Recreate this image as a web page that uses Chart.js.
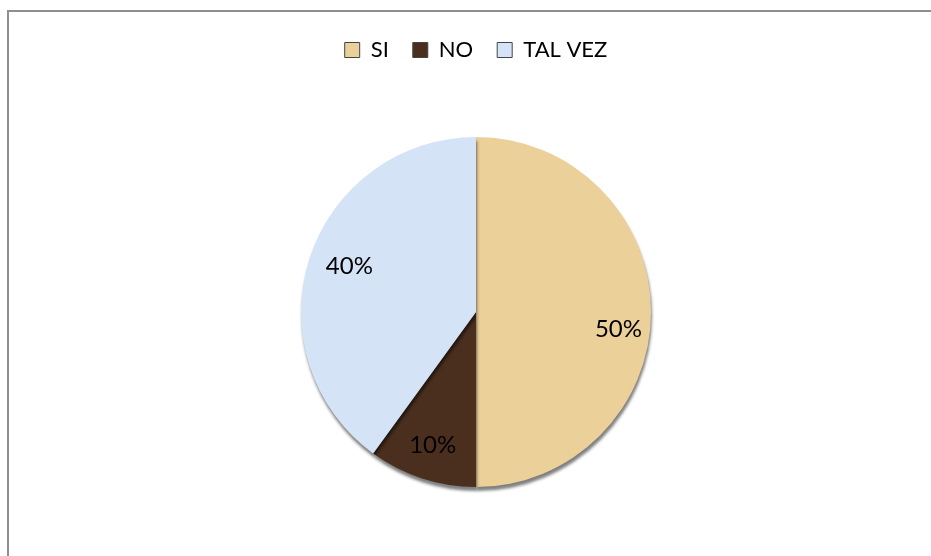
<!DOCTYPE html>
<html>
<head>
<meta charset="utf-8">
<script src="https://cdn.jsdelivr.net/npm/chart.js@4/dist/chart.umd.min.js"></script>
<style>
  html, body { margin: 0; padding: 0; background: #fff; }
  #wrap { position: relative; width: 931px; height: 556px; overflow: hidden; }
  #frame { position: absolute; left: 7px; top: 10px; width: 1000px; height: 1000px;
           border-left: 2px solid #8f8f8f; border-top: 2px solid #8f8f8f; box-sizing: border-box; }
  canvas { position: absolute; left: 0; top: 0; }
</style>
</head>
<body>
<div id="wrap">
  <div id="frame"></div>
  <canvas id="c" width="931" height="556"></canvas>
</div>
<script>
const categories = ["SI", "NO", "TAL VEZ"];
const values = [50, 10, 40];
const percentLabels = ["50%", "10%", "40%"];
const sliceColors = ["#EBD09A", "#4A2F1F", "#D4E4F6"];

// label placement style (not data): angle shift in degrees and radius fraction per slice
const labelPlacement = { angleShift: [7, 0, 2], radiusFrac: [0.82, 0.8, 0.77] };

const labelPlugin = {
  id: 'sliceLabels',
  afterDatasetsDraw(chart) {
    const ctx = chart.ctx;
    const meta = chart.getDatasetMeta(0);
    ctx.save();
    ctx.font = '24px Lato, "Liberation Sans", sans-serif';
    ctx.fillStyle = '#000';
    ctx.textAlign = 'center';
    ctx.textBaseline = 'middle';
    meta.data.forEach((arc, i) => {
      const p = arc.getProps(['x', 'y', 'startAngle', 'endAngle', 'outerRadius'], true);
      const mid = (p.startAngle + p.endAngle) / 2 + labelPlacement.angleShift[i] * Math.PI / 180;
      const r = p.outerRadius * labelPlacement.radiusFrac[i];
      ctx.fillText(percentLabels[i], p.x + Math.cos(mid) * r, p.y + Math.sin(mid) * r);
    });
    ctx.restore();
  }
};

const shadowPlugin = {
  id: 'pieShadow',
  beforeDatasetDraw(chart) {
    const ctx = chart.ctx;
    ctx.save();
    ctx.shadowColor = 'rgba(0,0,0,0.5)';
    ctx.shadowBlur = 3;
    ctx.shadowOffsetX = 1;
    ctx.shadowOffsetY = 4;
  },
  afterDatasetDraw(chart) {
    chart.ctx.restore();
  }
};

new Chart(document.getElementById('c'), {
  type: 'pie',
  data: {
    labels: categories,
    datasets: [{
      data: values,
      backgroundColor: sliceColors,
      borderWidth: 0,
      radius: 175
    }]
  },
  options: {
    responsive: false,
    animation: false,
    layout: { padding: { left: 21, right: 0, top: 15, bottom: 3 } },
    plugins: {
      tooltip: { enabled: false },
      legend: {
        position: 'top',
        labels: {
          boxWidth: 15,
          boxHeight: 15,
          padding: 24,
          color: '#000',
          font: { family: 'Lato, "Liberation Sans", sans-serif', size: 22 },
          generateLabels(chart) {
            const items = Chart.overrides.pie.plugins.legend.labels.generateLabels(chart);
            items.forEach(it => { it.lineWidth = 1; it.strokeStyle = '#444'; });
            return items;
          }
        }
      }
    }
  },
  plugins: [shadowPlugin, labelPlugin]
});
</script>
</body>
</html>
